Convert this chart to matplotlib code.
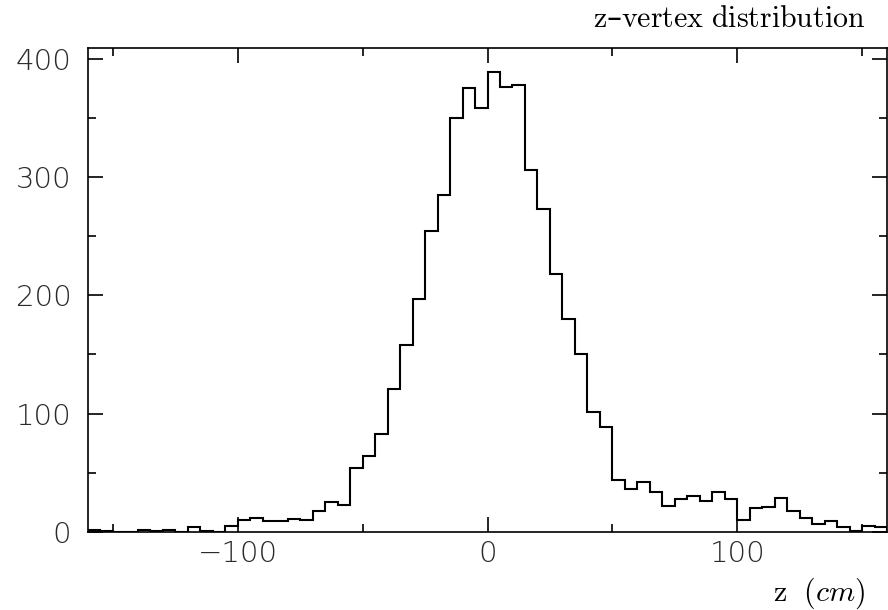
import numpy as np
import matplotlib
matplotlib.use('Agg')
import matplotlib.pyplot as plt
from matplotlib.ticker import MultipleLocator

# z-vertex histogram, 5 cm bins from -160 to 160
bin_lo = -160
bin_hi = 160
bin_width = 5
counts = [2, 1, 0, 0, 2, 1, 2, 0, 4, 1, 0, 5,
          10, 12, 9, 9, 11, 10, 18, 25, 23, 54, 64, 83,
          121, 158, 197, 254, 285, 350, 375, 358,
          389, 376, 378, 306, 273, 218, 180, 150,
          101, 89, 44, 36, 42, 34, 22, 28, 30, 26, 34, 28,
          10, 20, 21, 29, 18, 12, 7, 9, 4, 1, 5, 4]
x_ticks = [-100, 0, 100]
y_ticks = [0, 100, 200, 300, 400]

edges = np.arange(bin_lo, bin_hi + bin_width, bin_width)

plt.rcParams['mathtext.fontset'] = 'cm'

fig = plt.figure(figsize=(8.88, 6.10), dpi=100)
ax = fig.add_axes([88 / 888, 1 - 532 / 610, 799 / 888, 484 / 610])

ax.stairs(counts, edges, color='black', lw=1.5, baseline=0)

ax.set_xlim(bin_lo, bin_hi)
ax.set_ylim(0, 409)
ax.set_xticks(x_ticks)
ax.set_yticks(y_ticks)
ax.xaxis.set_minor_locator(MultipleLocator(50))
ax.yaxis.set_minor_locator(MultipleLocator(50))
ax.tick_params(which='both', direction='in', top=True, right=True, width=1.2)
ax.tick_params(which='major', length=11)
ax.tick_params(which='minor', length=6)
ax.tick_params(axis='y', pad=12)
ax.tick_params(axis='x', pad=6)
for lab in ax.get_xticklabels() + ax.get_yticklabels():
    lab.set_fontfamily('DejaVu Sans')
    lab.set_fontweight('light')
    lab.set_fontsize(21)
    lab.set_color('#2a2a2a')
for sp in ax.spines.values():
    sp.set_linewidth(1.2)

fig.text(865 / 888, 1 - 27 / 610, r'$\mathrm{z}$' + '\u2013' + r'$\mathrm{vertex\ distribution}$',
         ha='right', va='baseline', fontsize=21.5)
fig.text(865 / 888, 1 - 601 / 610, r'$\mathrm{z}\ \ (cm)$', ha='right', va='baseline', fontsize=21.5)

plt.savefig('out.png', dpi=100)
plt.close()
